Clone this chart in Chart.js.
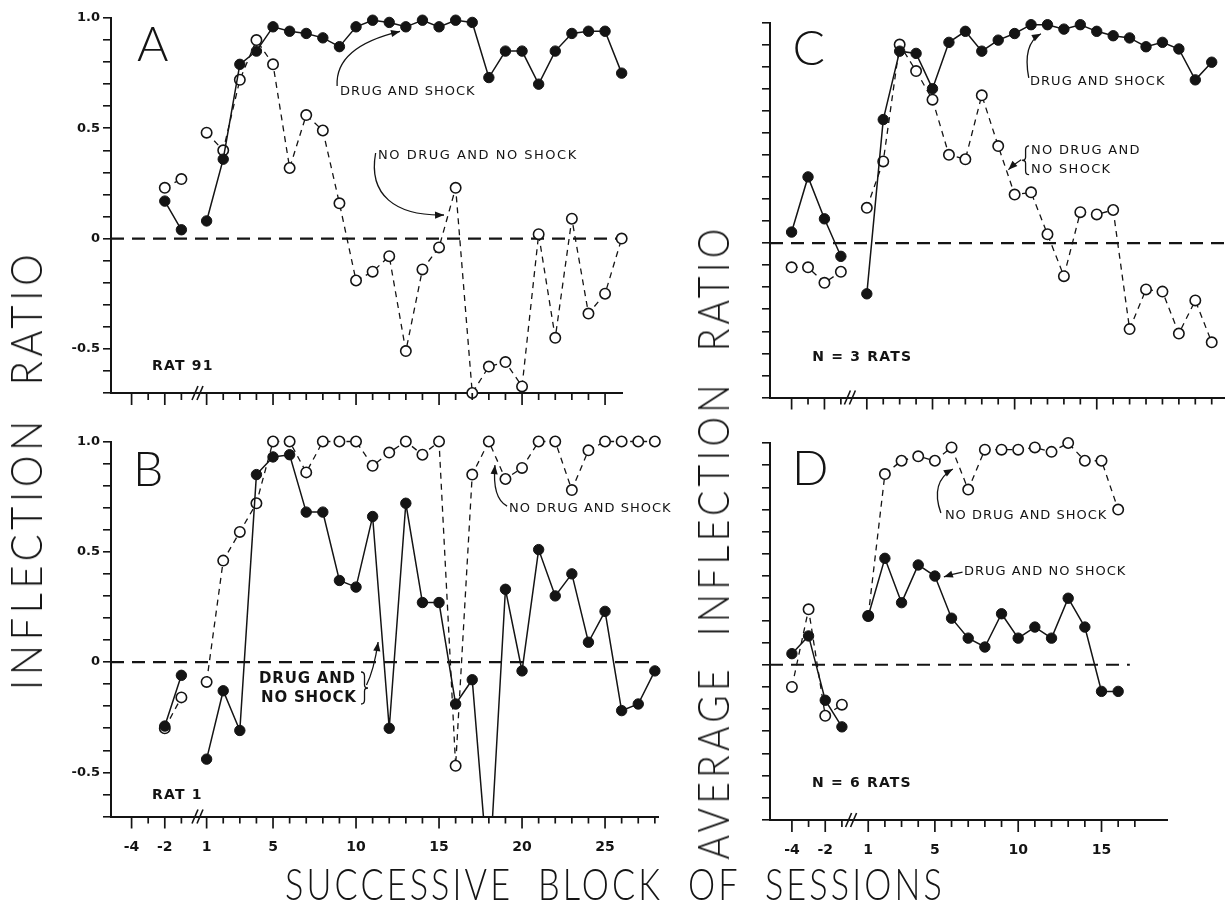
<!DOCTYPE html>
<html>
<head>
<meta charset="utf-8">
<title>Inflection ratio</title>
<script src="https://cdn.jsdelivr.net/npm/chart.js@4.4.1/dist/chart.umd.min.js"></script>
<style>
  html, body { margin:0; padding:0; background:#fff; }
  body { position:relative; width:1231px; height:915px; overflow:hidden; }
  canvas { position:absolute; left:0; top:0; }
  .lbl { position:absolute; font-family:Lato,"DejaVu Sans",sans-serif;
         font-weight:300; color:#141414; white-space:nowrap; line-height:1; }
</style>
</head>
<body>
<canvas id="cA" width="1231" height="915"></canvas>
<canvas id="cB" width="1231" height="915"></canvas>
<canvas id="cC" width="1231" height="915"></canvas>
<canvas id="cD" width="1231" height="915"></canvas>
<div class="lbl" id="yLeft">INFLECTION&nbsp;&nbsp;RATIO</div>
<div class="lbl" id="yRight">AVERAGE&nbsp;&nbsp;INFLECTION&nbsp;&nbsp;RATIO</div>
<div class="lbl" id="xTitle">SUCCESSIVE&nbsp;&nbsp;BLOCK&nbsp;&nbsp;OF&nbsp;&nbsp;SESSIONS</div>
<script>
// ---------------- DATA ----------------
// tick labels
const yTickValues = [1.0, 0.5, 0, -0.5];
const yTickLabels = ['1.0', '0.5', '0', '-0.5'];
const xTickLabelsAB = [-4, -2, 1, 5, 10, 15, 20, 25];
const xTickLabelsCD = [-4, -2, 1, 5, 10, 15];
const preTickSessions = [-4, -3, -2, -1];

// Panel A - RAT 91
const aPreSessions = [-2, -1];
const aDrugShockPre = [0.17, 0.04];
const aNoDrugNoShockPre = [0.23, 0.27];
const aSessions = [1,2,3,4,5,6,7,8,9,10,11,12,13,14,15,16,17,18,19,20,21,22,23,24,25,26];
const aDrugShock = [0.08,0.36,0.79,0.85,0.96,0.94,0.93,0.91,0.87,0.96,0.99,0.98,0.96,0.99,0.96,0.99,0.98,0.73,0.85,0.85,0.70,0.85,0.93,0.94,0.94,0.75];
const aNoDrugNoShock = [0.48,0.40,0.72,0.90,0.79,0.32,0.56,0.49,0.16,-0.19,-0.15,-0.08,-0.51,-0.14,-0.04,0.23,-0.70,-0.58,-0.56,-0.67,0.02,-0.45,0.09,-0.34,-0.25,0.00];

// Panel B - RAT 1
const bPreSessions = [-2, -1];
const bDrugNoShockPre = [-0.29, -0.06];
const bNoDrugShockPre = [-0.30, -0.16];
const bSessions = [1,2,3,4,5,6,7,8,9,10,11,12,13,14,15,16,17,18,19,20,21,22,23,24,25,26,27,28];
const bDrugNoShock = [-0.44,-0.13,-0.31,0.85,0.93,0.94,0.68,0.68,0.37,0.34,0.66,-0.30,0.72,0.27,0.27,-0.19,-0.08,-1.00,0.33,-0.04,0.51,0.30,0.40,0.09,0.23,-0.22,-0.19,-0.04];
const bNoDrugShock = [-0.09,0.46,0.59,0.72,1.00,1.00,0.86,1.00,1.00,1.00,0.89,0.95,1.00,0.94,1.00,-0.47,0.85,1.00,0.83,0.88,1.00,1.00,0.78,0.96,1.00,1.00,1.00,1.00];

// Panel C - N = 3 rats
const cPreSessions = [-4, -3, -2, -1];
const cDrugShockPre = [0.05, 0.30, 0.11, -0.06];
const cNoDrugNoShockPre = [-0.11, -0.11, -0.18, -0.13];
const cSessions = [1,2,3,4,5,6,7,8,9,10,11,12,13,14,15,16,17,18,19,20,21,22];
const cDrugShock = [-0.23,0.56,0.87,0.86,0.70,0.91,0.96,0.87,0.92,0.95,0.99,0.99,0.97,0.99,0.96,0.94,0.93,0.89,0.91,0.88,0.74,0.82];
const cNoDrugNoShock = [0.16,0.37,0.90,0.78,0.65,0.40,0.38,0.67,0.44,0.22,0.23,0.04,-0.15,0.14,0.13,0.15,-0.39,-0.21,-0.22,-0.41,-0.26,-0.45];

// Panel D - N = 6 rats
const dPreSessions = [-4, -3, -2, -1];
const dDrugNoShockPre = [0.05, 0.13, -0.16, -0.28];
const dNoDrugShockPre = [-0.10, 0.25, -0.23, -0.18];
const dSessions = [1,2,3,4,5,6,7,8,9,10,11,12,13,14,15,16];
const dDrugNoShock = [0.22,0.48,0.28,0.45,0.40,0.21,0.12,0.08,0.23,0.12,0.17,0.12,0.30,0.17,-0.12,-0.12];
const dNoDrugShock = [0.22,0.86,0.92,0.94,0.92,0.98,0.79,0.97,0.97,0.97,0.98,0.96,1.00,0.92,0.92,0.70];

// ---------------- HELPERS ----------------
const INK = '#141414';
// broken axis: baseline sessions (negative) are shifted toward the break
function pos(s, off) { return s < 0 ? s + off : s; }
function series(pre, preVals, post, postVals, off) {
  const d = pre.map((s, i) => ({x: pos(s, off), y: preVals[i]}));
  if (pre.length) d.push({x: 0, y: null});
  post.forEach((s, i) => d.push({x: s, y: postVals[i]}));
  return d;
}
function lineDs(data, filled, extra) {
  return Object.assign({
    data: data, showLine: true, spanGaps: false, tension: 0,
    borderColor: INK, borderWidth: filled ? 1.5 : 1.3,
    borderDash: filled ? [] : [6, 5],
    pointRadius: 5.2, pointHoverRadius: 5.2,
    pointBackgroundColor: filled ? INK : '#fff',
    pointBorderColor: INK, pointBorderWidth: filled ? 1 : 1.6,
    clip: false
  }, extra || {});
}
function zeroDs(x0, x1) {
  return { data: [{x: x0, y: 0}, {x: x1, y: 0}], showLine: true, borderColor: INK,
           borderWidth: 2.2, borderDash: [13, 8], pointRadius: 0, clip: false };
}
function rangeList(n) { const r = []; for (let i = 1; i <= n; i++) r.push(i); return r; }

function drawArrowHead(ctx, fx, fy, tx, ty) {
  const a = Math.atan2(ty - fy, tx - fx), L = 9, W = 3.6;
  ctx.beginPath();
  ctx.moveTo(tx, ty);
  ctx.lineTo(tx - L * Math.cos(a) + W * Math.sin(a), ty - L * Math.sin(a) - W * Math.cos(a));
  ctx.lineTo(tx - L * Math.cos(a) - W * Math.sin(a), ty - L * Math.sin(a) + W * Math.cos(a));
  ctx.closePath(); ctx.fill();
}

function inkPlugin(p) {
  return {
    id: 'ink' + p.name,
    afterDraw(chart) {
      const ctx = chart.ctx, xs = chart.scales.x, ys = chart.scales.y;
      const X = v => xs.getPixelForValue(v), Y = v => ys.getPixelForValue(v);
      const base = chart.chartArea.bottom;
      ctx.save();
      ctx.strokeStyle = INK; ctx.fillStyle = INK; ctx.lineWidth = 1.7;
      // x tick marks (long at labelled values)
      preTickSessions.concat(rangeList(p.lastTick)).forEach(s => {
        const px = X(pos(s, p.off));
        const long = p.xLabels.indexOf(s) >= 0;
        ctx.beginPath(); ctx.moveTo(px, base); ctx.lineTo(px, base + (long ? 12 : 7)); ctx.stroke();
      });
      // axis break
      const bx = X(p.brk);
      ctx.lineWidth = 1.6;
      [-3, 2].forEach(dx => {
        ctx.beginPath(); ctx.moveTo(bx + dx - 3, base + 7); ctx.lineTo(bx + dx + 3, base - 7); ctx.stroke();
      });
      // annotations
      p.notes.forEach(n => {
        if (n.type === 'text') {
          ctx.font = n.font; ctx.textAlign = 'left';
          ctx.textBaseline = n.baseline || 'middle';
          ctx.letterSpacing = n.ls || '0px';
          ctx.fillText(n.text, X(n.x), Y(n.y));
          ctx.letterSpacing = '0px';
        } else if (n.type === 'quad') {
          ctx.lineWidth = 1.3;
          ctx.beginPath(); ctx.moveTo(X(n.p0[0]), Y(n.p0[1]));
          ctx.quadraticCurveTo(X(n.c[0]), Y(n.c[1]), X(n.p1[0]), Y(n.p1[1])); ctx.stroke();
          drawArrowHead(ctx, X(n.c[0]), Y(n.c[1]), X(n.p1[0]), Y(n.p1[1]));
        } else if (n.type === 'cubic') {
          ctx.lineWidth = 1.3;
          ctx.beginPath(); ctx.moveTo(X(n.p0[0]), Y(n.p0[1]));
          ctx.bezierCurveTo(X(n.c1[0]), Y(n.c1[1]), X(n.c2[0]), Y(n.c2[1]), X(n.p1[0]), Y(n.p1[1])); ctx.stroke();
          drawArrowHead(ctx, X(n.c2[0]), Y(n.c2[1]), X(n.p1[0]), Y(n.p1[1]));
        } else if (n.type === 'brace') {
          const x = X(n.x), y0 = Y(n.y0), y1 = Y(n.y1), ym = (y0 + y1) / 2, d = n.dir * 3.5;
          ctx.lineWidth = 1.3;
          ctx.beginPath();
          ctx.moveTo(x, y0);
          ctx.quadraticCurveTo(x + d, y0, x + d, y0 + 4);
          ctx.lineTo(x + d, ym - 3);
          ctx.quadraticCurveTo(x + d, ym, x + 2 * d, ym);
          ctx.quadraticCurveTo(x + d, ym, x + d, ym + 3);
          ctx.lineTo(x + d, y1 - 4);
          ctx.quadraticCurveTo(x + d, y1, x, y1);
          ctx.stroke();
        }
      });
      ctx.restore();
    }
  };
}

function buildPanel(p) {
  const pad = { left: p.area.l - 40, top: p.area.t, right: 1231 - p.area.r, bottom: 915 - p.area.b - 40 };
  new Chart(document.getElementById(p.canvas), {
    type: 'line',
    data: { datasets: p.datasets },
    options: {
      responsive: false, animation: false, devicePixelRatio: 1, events: [],
      layout: { padding: pad },
      plugins: { legend: { display: false }, tooltip: { enabled: false } },
      scales: {
        x: {
          type: 'linear', position: 'bottom', min: p.xMin, max: p.xMax,
          grid: { display: false, drawTicks: false },
          border: { display: true, color: INK, width: 2 },
          afterFit: s => { s.height = 40; },
          afterBuildTicks: s => { s.ticks = p.xLabels.map(v => ({ value: pos(v, p.off) })); },
          ticks: {
            display: p.showX, autoSkip: false, maxRotation: 0, minRotation: 0, padding: 22, color: INK,
            font: { family: 'DejaVu Sans', weight: 'bold', size: 14 },
            callback: v => { const h = p.xLabels.find(s => Math.abs(pos(s, p.off) - v) < 1e-6); return h === undefined ? '' : String(h); }
          }
        },
        y: {
          type: 'linear', min: -0.7, max: 1.0,
          grid: { display: true, drawOnChartArea: false, drawTicks: true, tickLength: 8, color: INK, lineWidth: 1.6 },
          border: { display: true, color: INK, width: 2 },
          afterFit: s => { s.width = 40; },
          ticks: {
            stepSize: 0.1, autoSkip: false, padding: 3, color: INK,
            font: { family: 'DejaVu Sans', weight: 'bold', size: 13 },
            callback: v => {
              if (!p.showY) return '';
              const i = yTickValues.findIndex(t => Math.abs(t - v) < 1e-6);
              return i < 0 ? '' : yTickLabels[i];
            }
          }
        }
      }
    },
    plugins: [inkPlugin(p)]
  });
}

const NOTE = '13px "DejaVu Sans"', NOTEB = 'bold 14px "DejaVu Sans"', LETTER = '300 48px Lato';
const offAB = 0.48, offCD = 0.42;

buildPanel({
  name: 'A', canvas: 'cA', area: { l: 111, t: 18, r: 622, b: 393 },
  xMin: -4.76, xMax: 26.02, off: offAB, brk: 0.48, lastTick: 25,
  xLabels: xTickLabelsAB, showX: false, showY: true,
  datasets: [
    lineDs(series(aPreSessions, aDrugShockPre, aSessions, aDrugShock, offAB), true),
    lineDs(series(aPreSessions, aNoDrugNoShockPre, aSessions, aNoDrugNoShock, offAB), false),
    zeroDs(-4.76, 26)
  ],
  notes: [
    { type: 'text', x: -3.19, y: 0.803, text: 'A', font: LETTER, baseline: 'alphabetic' },
    { type: 'text', x: 9.04, y: 0.665, text: 'DRUG AND SHOCK', font: NOTE, ls: '1px' },
    { type: 'quad', p0: [8.86, 0.692], c: [8.73, 0.869], p1: [12.65, 0.939] },
    { type: 'text', x: 11.33, y: 0.374, text: 'NO DRUG AND NO SHOCK', font: NOTE, ls: '1.5px' },
    { type: 'cubic', p0: [11.18, 0.388], c1: [10.72, 0.198], c2: [12.35, 0.102], p1: [15.3, 0.107] },
    { type: 'text', x: -2.29, y: -0.58, text: 'RAT 91', font: NOTEB, ls: '1.2px' }
  ]
});

buildPanel({
  name: 'B', canvas: 'cB', area: { l: 111, t: 441.5, r: 658, b: 816.5 },
  xMin: -4.76, xMax: 28.19, off: offAB, brk: 0.48, lastTick: 28,
  xLabels: xTickLabelsAB, showX: true, showY: true,
  datasets: [
    lineDs(series(bPreSessions, bDrugNoShockPre, bSessions, bDrugNoShock, offAB), true,
           { clip: { left: false, top: false, right: false, bottom: 0 } }),
    lineDs(series(bPreSessions, bNoDrugShockPre, bSessions, bNoDrugShock, offAB), false),
    zeroDs(-4.76, 27.9)
  ],
  notes: [
    { type: 'text', x: -3.43, y: 0.798, text: 'B', font: LETTER, baseline: 'alphabetic' },
    { type: 'text', x: 19.22, y: 0.694, text: 'NO DRUG AND SHOCK', font: NOTE, ls: '1px' },
    { type: 'quad', p0: [19.1, 0.707], c: [18.19, 0.743], p1: [18.37, 0.893] },
    { type: 'text', x: 4.16, y: -0.077, text: 'DRUG AND', font: 'bold 15px "DejaVu Sans"', ls: '0.8px' },
    { type: 'text', x: 4.28, y: -0.163, text: 'NO SHOCK', font: 'bold 15px "DejaVu Sans"', ls: '0.8px' },
    { type: 'brace', x: 10.3, y0: -0.045, y1: -0.19, dir: 1 },
    { type: 'quad', p0: [10.63, -0.104], c: [11.08, -0.036], p1: [11.33, 0.091] },
    { type: 'text', x: -2.29, y: -0.603, text: 'RAT 1', font: NOTEB, ls: '1.2px' }
  ]
});

buildPanel({
  name: 'C', canvas: 'cC', area: { l: 770, t: 22.5, r: 1231, b: 397.5 },
  xMin: -4.895, xMax: 22.76, off: offCD, brk: 0.0, lastTick: 22,
  xLabels: xTickLabelsCD, showX: false, showY: false,
  datasets: [
    lineDs(series(cPreSessions, cDrugShockPre, cSessions, cDrugShock, offCD), true),
    lineDs(series(cPreSessions, cNoDrugNoShockPre, cSessions, cNoDrugNoShock, offCD), false),
    zeroDs(-4.895, 22.76)
  ],
  notes: [
    { type: 'text', x: -3.52, y: 0.808, text: 'C', font: LETTER, baseline: 'alphabetic' },
    { type: 'text', x: 10.94, y: 0.733, text: 'DRUG AND SHOCK', font: NOTE, ls: '1px' },
    { type: 'quad', p0: [10.86, 0.749], c: [10.46, 0.902], p1: [11.6, 0.949] },
    { type: 'text', x: 11.0, y: 0.42, text: 'NO DRUG AND', font: NOTE, ls: '1.3px' },
    { type: 'text', x: 11.0, y: 0.332, text: 'NO SHOCK', font: NOTE, ls: '1.3px' },
    { type: 'brace', x: 10.88, y0: 0.441, y1: 0.31, dir: -1 },
    { type: 'quad', p0: [10.4, 0.378], c: [10.0, 0.36], p1: [9.62, 0.333] },
    { type: 'text', x: -2.32, y: -0.52, text: 'N = 3 RATS', font: NOTEB, ls: '1.2px' }
  ]
});

buildPanel({
  name: 'D', canvas: 'cD', area: { l: 770, t: 443, r: 1167, b: 820 },
  xMin: -4.895, xMax: 18.93, off: offCD, brk: 0.0, lastTick: 17,
  xLabels: xTickLabelsCD, showX: true, showY: false,
  datasets: [
    lineDs(series(dPreSessions, dDrugNoShockPre, dSessions, dDrugNoShock, offCD), true),
    lineDs(series(dPreSessions, dNoDrugShockPre, dSessions, dNoDrugShock, offCD), false),
    zeroDs(-4.895, 16.7)
  ],
  notes: [
    { type: 'text', x: -3.58, y: 0.81, text: 'D', font: LETTER, baseline: 'alphabetic' },
    { type: 'text', x: 5.6, y: 0.671, text: 'NO DRUG AND SHOCK', font: NOTE, ls: '1px' },
    { type: 'quad', p0: [5.36, 0.684], c: [4.7, 0.824], p1: [6.08, 0.883] },
    { type: 'text', x: 6.74, y: 0.418, text: 'DRUG AND NO SHOCK', font: NOTE, ls: '1px' },
    { type: 'quad', p0: [6.66, 0.418], c: [6.1, 0.41], p1: [5.54, 0.396] },
    { type: 'text', x: -2.38, y: -0.533, text: 'N = 6 RATS', font: NOTEB, ls: '1.2px' }
  ]
});

// axis titles (HTML text), condensed to fit the reference lengths
function place(id, cx, cy, size, ls, rot, target) {
  const el = document.getElementById(id);
  el.style.fontSize = size + 'px';
  el.style.letterSpacing = ls + 'px';
  el.style.left = cx + 'px';
  el.style.top = cy + 'px';
  const k = target / el.offsetWidth;
  el.style.transform = 'translate(-50%,-50%)' + (rot ? ' rotate(-90deg)' : '') + ' scaleX(' + k.toFixed(3) + ')';
}
function placeAll() {
  place('yLeft', 25, 470, 44, 5, true, 440);
  place('yRight', 712, 542, 44, 5, true, 635);
  place('xTitle', 615, 883, 44, 4, false, 660);
}
placeAll();
if (document.fonts && document.fonts.ready) document.fonts.ready.then(placeAll);
</script>
</body>
</html>
